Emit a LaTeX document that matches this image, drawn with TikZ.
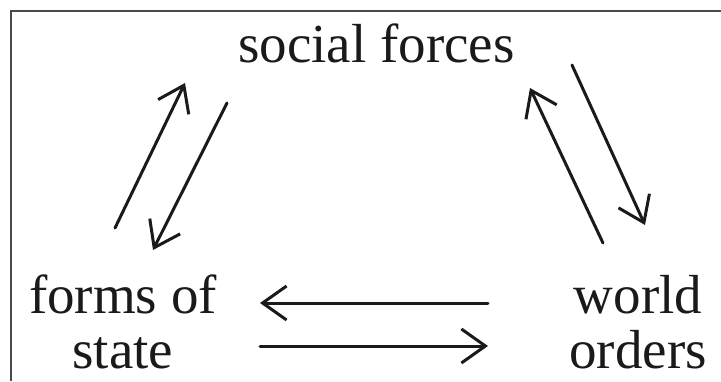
\documentclass[tikz,border=0pt]{standalone}
\usepackage{xcolor}
\usepackage{fontspec}
\setmainfont{Liberation Serif}
\usepackage{tikz}
\usetikzlibrary{arrows.meta, positioning}
\definecolor{inkfg}{HTML}{1a1a1a}
\definecolor{frameline}{HTML}{4a4a4a}
\tikzstyle{concept} = [inner sep=0pt, align=center, text=inkfg,
  font=\fontsize{55}{55}\selectfont]
\tikzstyle{arrow} = [-{Straight Barb[length=24pt, width=34pt]}, color=inkfg,
  line width=3pt, line cap=round, line join=round]
\tikzstyle{frame} = [color=frameline, line width=1.6pt]

\begin{document}
\begin{tikzpicture}[x=1pt, y=-1pt]

  \useasboundingbox (0,0) rectangle (721,381);
  \draw[frame] (11,381) -- (11,11) -- (721,11);

  \node[concept, anchor=base] (social) at (376.5,62) {social forces};
  \node[concept, anchor=base] (forms)  at (123,368) {forms of\\state};
  \node[concept, anchor=base] (world)  at (638,368) {world\\orders};

  % social forces <-> forms of state
  \draw[arrow] ([shift={(-8,-140)}]forms.base) -- ([shift={(-191.5,21)}]social.base);
  \draw[arrow] ([shift={(-149.5,41)}]social.base) -- ([shift={(30,-118)}]forms.base);

  % social forces <-> world orders
  \draw[arrow] ([shift={(-35,-125)}]world.base) -- ([shift={(153.5,26)}]social.base);
  \draw[arrow] ([shift={(195.5,3)}]social.base) -- ([shift={(7,-143)}]world.base);

  % world orders <-> forms of state
  \draw[arrow] ([shift={(-150,-65)}]world.base) -- ([shift={(137,-65)}]forms.base);
  \draw[arrow] ([shift={(137,-22)}]forms.base) -- ([shift={(-150,-22)}]world.base);

\end{tikzpicture}
\end{document}
